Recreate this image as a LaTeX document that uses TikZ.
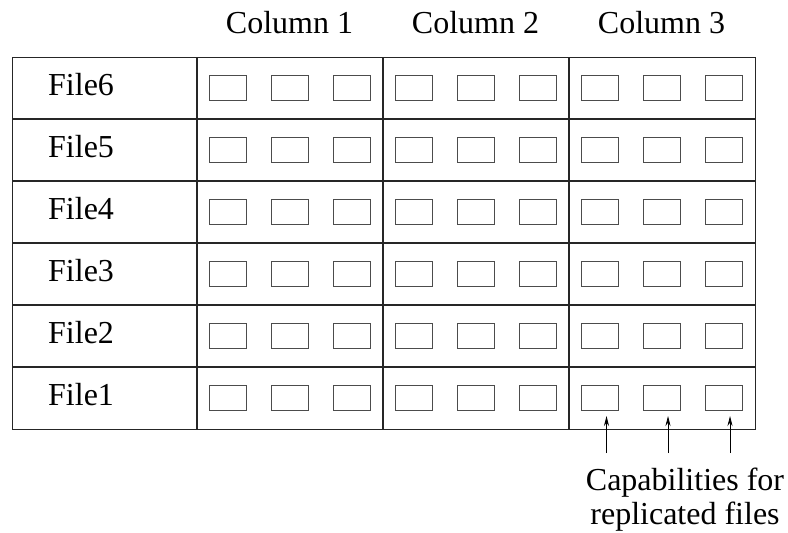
\documentclass[tikz,border=0pt]{standalone}
\usepackage{fontspec}
\setmainfont{Liberation Serif}
\usetikzlibrary{arrows.meta}
\begin{document}
\begin{tikzpicture}[x=1pt,y=-1pt,
  gridline/.style={line width=1.2pt, draw=black!85},
  capbox/.style={draw=black!70, line width=1pt, minimum width=37pt, minimum height=25pt, inner sep=0pt},
  lbl/.style={font=\fontsize{32}{34}\selectfont, inner sep=0pt},
  ptr/.style={-{Stealth[length=10pt,width=5pt]}, line width=0.8pt}]
\useasboundingbox (0,0) rectangle (788,533);
% table frame
\node[gridline, draw, anchor=north west, minimum width=743pt, minimum height=372pt, inner sep=0pt] (table) at (12,57) {};
\foreach \k in {1,...,5}{
  \draw[gridline] (12,57+62*\k) -- (755,57+62*\k);
}
\foreach \x in {197,383,569}{
  \draw[gridline] (\x,57) -- (\x,429);
}
% column headings
\node[lbl, anchor=base] (c1) at (289.5,33) {Column 1};
\node[lbl, anchor=base] (c2) at (475.5,33) {Column 2};
\node[lbl, anchor=base] (c3) at (661.5,33) {Column 3};
% file labels and capability boxes
\foreach \r in {1,...,6}{
  \pgfmathsetmacro{\yc}{398-62*(\r-1)}
  \node[lbl, anchor=base west] (file\r) at (48,\yc+7) {File\r};
  \foreach \c/\cx in {1/197,2/383,3/569}{
    \foreach \b in {1,2,3}{
      \node[capbox] (b\r-\c-\b) at (\cx+30.5+62*\b-62,\yc) {};
    }
  }
}
% pointers
\coordinate (t1) at (606.5,453);
\coordinate (t2) at (668,453);
\coordinate (t3) at (730,453);
\draw[ptr] (t1) -- ([xshift=7pt,yshift=-5pt]b1-3-1.south);
\draw[ptr] (t2) -- ([xshift=6.5pt,yshift=-5pt]b1-3-2.south);
\draw[ptr] (t3) -- ([xshift=6.5pt,yshift=-5pt]b1-3-3.south);
\node[lbl, align=center] (caption) at (685,500) {Capabilities for\\replicated files};
\end{tikzpicture}
\end{document}
